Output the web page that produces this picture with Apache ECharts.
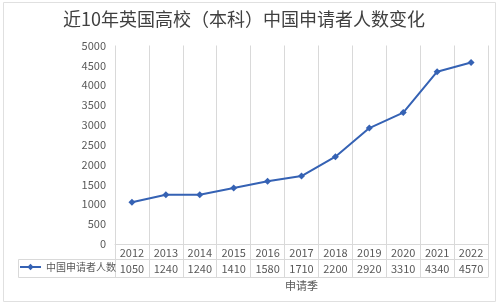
<!DOCTYPE html>
<html>
<head>
<meta charset="utf-8">
<script src="https://cdn.jsdelivr.net/npm/echarts@6/dist/echarts.min.js"></script>
<style>
  html, body { margin: 0; padding: 0; background: #fff; }
  #chart { width: 499px; height: 305px; }
</style>
</head>
<body>
<div id="chart"></div>
<script>
var years = ['2012', '2013', '2014', '2015', '2016', '2017', '2018', '2019', '2020', '2021', '2022'];
var applicants = [1050, 1240, 1240, 1410, 1580, 1710, 2200, 2920, 3310, 4340, 4570];
var seriesName = '中国申请者人数';

var font = '"Noto Sans CJK SC", "Noto Sans", sans-serif';
var gridColor = '#d9d9d9';
var textColor = '#595959';
var lineColor = '#3562b4';

var myChart = echarts.init(document.getElementById('chart'));
myChart.setOption({
    backgroundColor: '#fff',
    textStyle: { fontFamily: font },
    title: {
        text: '近10年英国高校（本科）中国申请者人数变化',
        left: 58,
        top: 5,
        textStyle: { fontSize: 18, fontWeight: 'normal', color: '#404040', fontFamily: font }
    },
    legend: {
        data: [seriesName],
        left: 19,
        top: 262,
        padding: 0,
        itemWidth: 21,
        itemHeight: 8,
        itemGap: 0,
        textStyle: { fontSize: 10, color: textColor }
    },
    grid: { left: 115, right: 11, top: 45.5, bottom: 61 },
    xAxis: [{
        type: 'category',
        data: years,
        position: 'bottom',
        axisLine: { lineStyle: { color: gridColor } },
        axisTick: { show: true, length: 33, interval: 0, lineStyle: { color: gridColor } },
        splitLine: { show: true, interval: 0, lineStyle: { color: gridColor } },
        axisLabel: { margin: 3, fontSize: 11, color: textColor, interval: 0 }
    }, {
        type: 'category',
        data: applicants.map(String),
        position: 'bottom',
        offset: 15,
        axisLine: { lineStyle: { color: gridColor } },
        axisTick: { show: false },
        axisLabel: { margin: 4, fontSize: 11, color: textColor, interval: 0 }
    }, {
        type: 'category',
        data: years,
        position: 'bottom',
        offset: 33,
        name: '申请季',
        nameLocation: 'middle',
        nameGap: 3,
        nameTextStyle: { fontSize: 11, color: textColor, verticalAlign: 'top' },
        axisLine: { lineStyle: { color: gridColor } },
        axisTick: { show: false },
        axisLabel: { show: false }
    }],
    yAxis: {
        type: 'value',
        min: 0,
        max: 5000,
        interval: 500,
        axisLine: { show: false },
        axisTick: { show: false },
        splitLine: { show: false },
        axisLabel: { margin: 9, fontSize: 11, color: textColor, formatter: function (v) { return String(v); } }
    },
    graphic: [{
        type: 'rect',
        shape: { x: 3.5, y: 2.5, width: 492, height: 299 },
        style: { fill: 'none', stroke: '#e0e0e0', lineWidth: 1 },
        silent: true
    }, {
        type: 'polyline',
        shape: { points: [[115, 259.5], [18.5, 259.5], [18.5, 277.5], [115, 277.5]] },
        style: { fill: 'none', stroke: gridColor, lineWidth: 1 },
        silent: true
    }],
    series: [{
        name: seriesName,
        type: 'line',
        data: applicants,
        symbol: 'diamond',
        symbolSize: 7,
        lineStyle: { color: lineColor, width: 2 },
        itemStyle: { color: lineColor }
    }]
});
</script>
</body>
</html>
